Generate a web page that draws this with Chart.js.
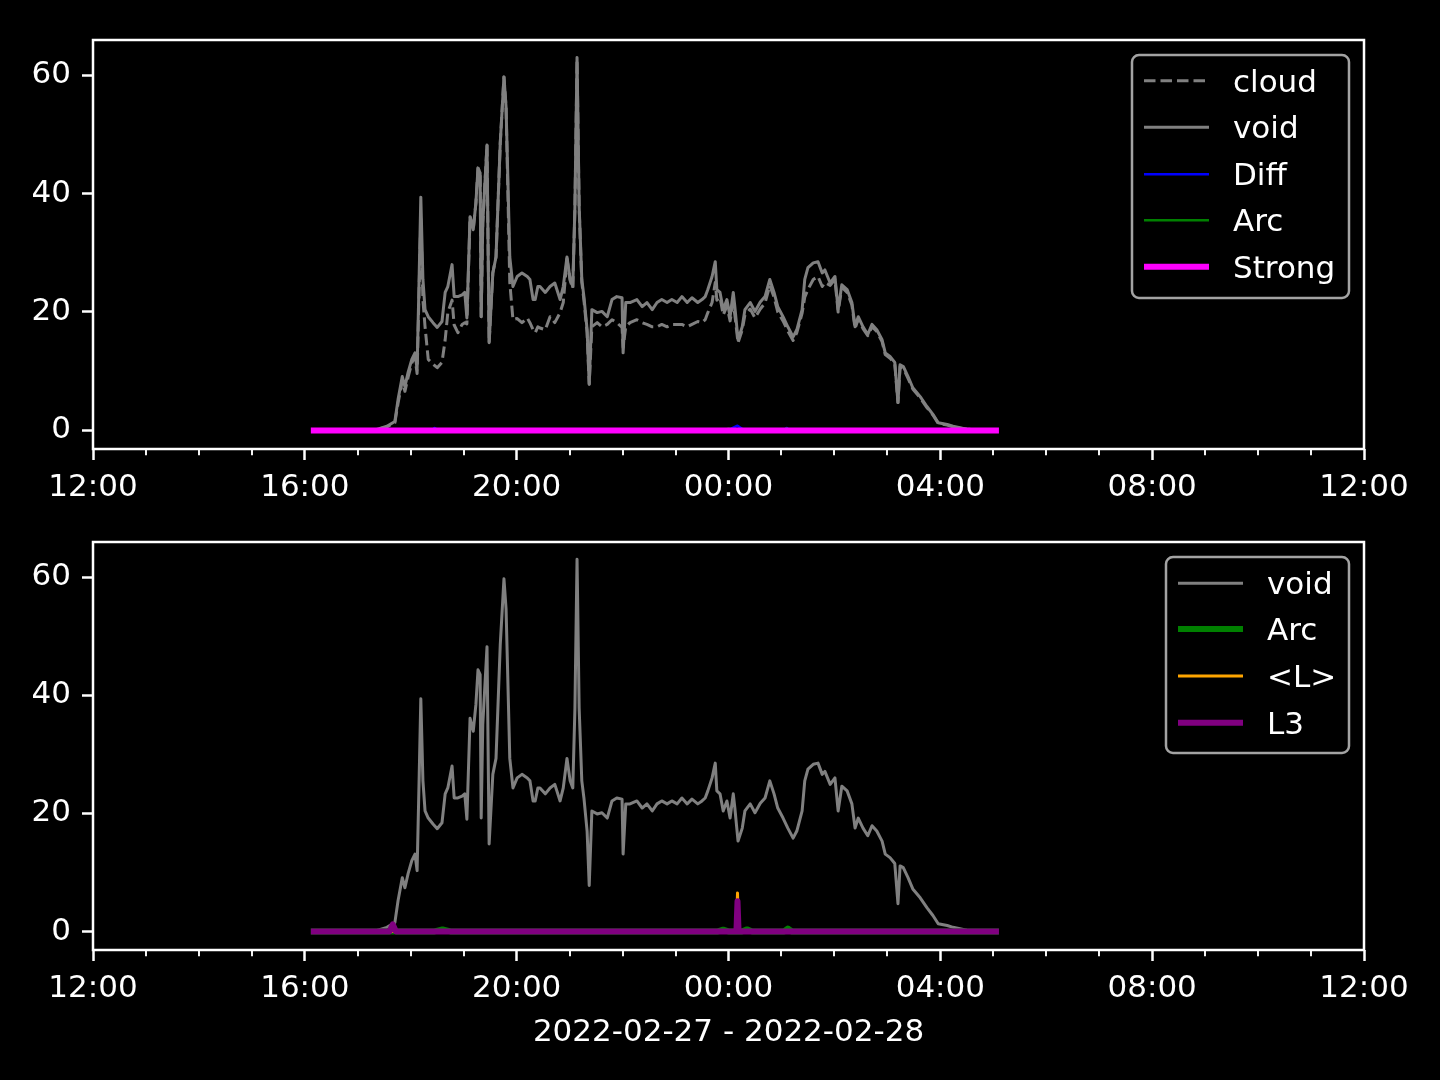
<!DOCTYPE html>
<html>
<head>
<meta charset="utf-8">
<script src="https://cdn.jsdelivr.net/npm/chart.js@4.4.1/dist/chart.umd.min.js"></script>
<style>
html, body { margin: 0; padding: 0; background: #000; }
body { width: 1440px; height: 1080px; position: relative; overflow: hidden; }
canvas { position: absolute; left: 0; }
#chart_top { top: 0; }
#chart_bottom { top: 500px; }
</style>
</head>
<body>
<canvas id="chart_top" width="1440" height="540"></canvas>
<canvas id="chart_bottom" width="1440" height="580"></canvas>
<script>
// time axis: hours after 2022-02-27 12:00
var hourTicks = [0, 1, 2, 3, 4, 5, 6, 7, 8, 9, 10, 11, 12, 13, 14, 15, 16, 17, 18, 19, 20, 21, 22, 23, 24];
var majorHours = [0, 4, 8, 12, 16, 20, 24];
var majorLabels = ['12:00', '16:00', '20:00', '00:00', '04:00', '08:00', '12:00'];
var yTicks = [0, 20, 40, 60];
var dateLabel = '2022-02-27 - 2022-02-28';

var voidT = [4.17, 5.30, 5.55, 5.70, 5.76, 5.84, 5.89, 5.95, 6.02, 6.08, 6.12, 6.16, 6.19, 6.23, 6.27, 6.33, 6.42, 6.50, 6.59, 6.65,
    6.70, 6.78, 6.82, 6.89, 6.97, 7.02, 7.06, 7.12, 7.18, 7.23, 7.27, 7.31, 7.33, 7.36, 7.44, 7.48, 7.55, 7.61, 7.69, 7.76,
    7.80, 7.87, 7.93, 8.01, 8.10, 8.20, 8.25, 8.31, 8.35, 8.40, 8.44, 8.54, 8.63, 8.72, 8.82, 8.88, 8.95, 9.01, 9.06, 9.10,
    9.14, 9.18, 9.23, 9.27, 9.33, 9.37, 9.42, 9.52, 9.61, 9.71, 9.80, 9.89, 9.99, 10.01, 10.06, 10.14, 10.27, 10.37, 10.46, 10.56,
    10.65, 10.74, 10.84, 10.93, 11.03, 11.12, 11.22, 11.31, 11.42, 11.50, 11.56, 11.61, 11.69, 11.75, 11.78, 11.84, 11.90, 11.97, 12.03, 12.09,
    12.12, 12.18, 12.26, 12.31, 12.41, 12.50, 12.60, 12.69, 12.78, 12.86, 12.93, 13.03, 13.12, 13.22, 13.29, 13.39, 13.44, 13.50, 13.60, 13.69,
    13.77, 13.82, 13.92, 14.01, 14.07, 14.14, 14.24, 14.33, 14.39, 14.45, 14.54, 14.63, 14.71, 14.80, 14.90, 14.96, 15.05, 15.14, 15.20, 15.24,
    15.30, 15.39, 15.48, 15.62, 15.75, 15.86, 15.96, 16.13, 16.24, 16.50, 17.05];
var voidV = [0, 0, 0.7, 1.5, 5.2, 9.1, 7.4, 9.8, 12.0, 13.1, 10.3, 26.6, 39.4, 25.5, 20.4, 19.2, 18.2, 17.4, 18.4, 23.3,
    24.3, 28.0, 22.6, 22.6, 22.9, 23.3, 19.0, 36.1, 33.9, 38.4, 44.3, 43.5, 19.2, 35.0, 48.2, 14.8, 26.6, 29.3, 48.5, 59.7,
    54.6, 29.3, 24.3, 26.0, 26.6, 26.0, 25.5, 22.1, 22.1, 24.3, 24.3, 23.3, 24.3, 24.9, 22.1, 24.3, 29.3, 25.5, 24.3, 37.8,
    63.0, 37.8, 25.5, 22.6, 17.0, 7.8, 20.4, 19.9, 20.1, 19.2, 22.1, 22.6, 22.4, 13.1, 21.6, 21.6, 22.1, 20.9, 21.6, 20.4,
    21.6, 22.1, 21.6, 22.1, 21.6, 22.6, 21.6, 22.4, 21.6, 22.1, 22.6, 23.8, 26.0, 28.5, 23.8, 23.3, 20.4, 22.1, 19.2, 23.3,
    20.9, 15.3, 17.5, 20.4, 21.6, 20.1, 21.7, 22.6, 25.5, 23.3, 20.9, 19.2, 17.5, 15.8, 17.0, 20.4, 25.5, 27.5, 28.3, 28.5,
    26.6, 27.1, 24.9, 26.0, 20.4, 24.6, 23.8, 21.6, 17.5, 19.2, 17.5, 16.2, 17.9, 17.0, 15.3, 13.1, 12.5, 11.5, 4.7, 11.1,
    10.8, 9.1, 7.2, 5.7, 4.0, 2.7, 1.3, 1.0, 0.7, 0.2, 0];

var cloudT = [4.17, 5.30, 5.55, 5.70, 5.76, 5.84, 5.89, 5.95, 6.02, 6.08, 6.12, 6.16, 6.19, 6.23, 6.27, 6.33, 6.42, 6.50, 6.59, 6.65,
    6.70, 6.78, 6.82, 6.89, 6.97, 7.02, 7.06, 7.12, 7.18, 7.23, 7.27, 7.31, 7.33, 7.36, 7.44, 7.48, 7.55, 7.61, 7.69, 7.76,
    7.80, 7.87, 7.93, 8.01, 8.10, 8.20, 8.25, 8.31, 8.35, 8.40, 8.44, 8.54, 8.63, 8.72, 8.82, 8.88, 8.95, 9.01, 9.06, 9.10,
    9.14, 9.18, 9.23, 9.27, 9.33, 9.37, 9.42, 9.52, 9.61, 9.71, 9.80, 9.89, 9.99, 10.01, 10.06, 10.14, 10.27, 10.37, 10.46, 10.56,
    10.65, 10.74, 10.84, 10.93, 11.03, 11.12, 11.22, 11.31, 11.42, 11.50, 11.56, 11.61, 11.69, 11.75, 11.78, 11.84, 11.90, 11.97, 12.03, 12.09,
    12.12, 12.18, 12.26, 12.31, 12.41, 12.50, 12.60, 12.69, 12.78, 12.86, 12.93, 13.03, 13.12, 13.22, 13.29, 13.39, 13.44, 13.50, 13.60, 13.69,
    13.77, 13.82, 13.92, 14.01, 14.07, 14.14, 14.24, 14.33, 14.39, 14.45, 14.54, 14.63, 14.71, 14.80, 14.90, 14.96, 15.05, 15.14, 15.20, 15.24,
    15.30, 15.39, 15.48, 15.62, 15.75, 15.86, 15.96, 16.13, 16.24, 16.50, 17.05];
var cloudV = [0, 0, 0.6, 1.3, 4.6, 8.4, 6.6, 9.0, 11.4, 12.4, 9.6, 24.5, 36.0, 22.0, 17.5, 12.0, 11.2, 10.6, 11.5, 15.3,
    19.9, 22.0, 17.8, 16.5, 17.9, 18.2, 18.0, 36.1, 33.9, 38.4, 44.3, 43.5, 19.2, 35.0, 48.2, 14.8, 26.6, 29.3, 48.5, 59.7,
    54.6, 25.0, 18.7, 18.9, 18.2, 19.0, 18.2, 17.0, 16.5, 17.5, 17.3, 17.0, 19.2, 18.2, 19.9, 21.6, 29.0, 25.3, 24.0, 37.5,
    62.6, 37.5, 25.0, 22.0, 16.5, 7.8, 17.5, 18.2, 17.5, 17.9, 18.7, 18.2, 17.4, 14.0, 17.5, 18.2, 18.7, 18.2, 17.9, 17.5,
    17.5, 17.9, 17.5, 17.9, 17.9, 17.9, 17.5, 17.9, 18.4, 18.2, 18.7, 19.9, 21.6, 25.0, 22.0, 22.5, 19.5, 21.0, 18.5, 21.5,
    19.5, 14.8, 17.0, 19.5, 20.5, 19.0, 20.5, 21.5, 24.5, 22.5, 20.0, 18.5, 16.8, 15.2, 16.5, 19.8, 22.5, 23.8, 25.5, 26.0,
    24.3, 25.0, 24.5, 25.5, 20.0, 24.2, 23.3, 21.2, 17.2, 18.8, 17.2, 16.0, 17.5, 16.7, 15.0, 12.8, 12.2, 11.2, 4.7, 10.8,
    10.5, 8.8, 7.0, 5.5, 3.8, 2.6, 1.2, 0.9, 0.6, 0.2, 0];

var diffT = [4.17, 6.40, 6.45, 6.52, 11.95, 12.05, 12.17, 12.25, 12.35, 13.05, 13.10, 13.15, 17.05];
var diffV = [0, 0, 0.4, 0, 0, 0.3, 0.8, 0.3, 0, 0, 0.4, 0, 0];
var arcTopT = [4.17, 11.90, 12.00, 12.10, 13.05, 13.10, 13.15, 17.05];
var arcTopV = [0, 0, 0.3, 0, 0, 0.3, 0, 0];
var strongT = [4.17, 17.05];
var strongV = [0, 0];

var arcT = [4.17, 6.45, 6.60, 6.75, 11.80, 11.90, 12.00, 12.25, 12.35, 12.45, 13.05, 13.12, 13.20, 17.05];
var arcV = [0, 0, 0.35, 0, 0, 0.3, 0, 0, 0.35, 0, 0, 0.5, 0, 0];
var lAvgT = [4.17, 12.15, 12.17, 12.19, 17.05];
var lAvgV = [0, 0, 6.5, 0, 0];
var l3T = [4.17, 5.60, 5.66, 5.72, 12.15, 12.17, 12.19, 17.05];
var l3V = [0, 0, 1.2, 0, 0, 5.1, 0, 0];

var FONT = 'DejaVu Sans';
Chart.defaults.font.family = FONT;

function pts(t, v) {
    return t.map(function (x, i) { return { x: x, y: v[i] }; });
}

// z: stacking position, later series are drawn on top (Chart.js draws low order last)
function line(label, t, v, color, width, z, dash) {
    return {
        label: label,
        data: pts(t, v),
        borderColor: color,
        borderWidth: width,
        borderDash: dash || [],
        borderCapStyle: dash ? 'butt' : 'square',
        borderJoinStyle: 'round',
        pointRadius: 0,
        fill: false,
        tension: 0,
        order: 10 - z,
    };
}

// axes frame, minor hour ticks and matplotlib-like legend box
var axesDecor = {
    id: 'axesDecor',
    afterDraw: function (chart, args, o) {
        var ctx = chart.ctx;
        var a = chart.chartArea;
        var xs = chart.scales.x;
        ctx.save();
        ctx.strokeStyle = '#ffffff';
        ctx.lineWidth = 1.9;
        xs.ticks.forEach(function (t) {
            if (majorHours.indexOf(t.value) < 0) {
                var px = Math.round(xs.getPixelForValue(t.value));
                ctx.beginPath();
                ctx.moveTo(px, a.bottom);
                ctx.lineTo(px, a.bottom + 6.25);
                ctx.stroke();
            }
        });
        ctx.lineWidth = 2.5;
        ctx.strokeRect(a.left, a.top, a.right - a.left, a.bottom - a.top);

        ctx.beginPath();
        ctx.roundRect(o.x, o.y, o.w, o.h, 7);
        ctx.fillStyle = 'rgba(0,0,0,0.8)';
        ctx.fill();
        ctx.strokeStyle = '#a3a3a3';
        ctx.lineWidth = 2.5;
        ctx.stroke();

        ctx.font = '31px "' + FONT + '"';
        ctx.textBaseline = 'alphabetic';
        ctx.textAlign = 'left';
        chart.data.datasets.forEach(function (ds, i) {
            var y = o.rowY[i];
            ctx.beginPath();
            ctx.setLineDash(ds.borderDash);
            ctx.lineCap = 'butt';
            ctx.strokeStyle = ds.borderColor;
            ctx.lineWidth = ds.borderWidth;
            ctx.moveTo(o.lineX0, y);
            ctx.lineTo(o.lineX1, y);
            ctx.stroke();
            ctx.setLineDash([]);
            ctx.fillStyle = '#ffffff';
            ctx.fillText(ds.label, o.textX, y + 11);
        });
        ctx.restore();
    },
};

function buildOptions(xHeight, padTop, legendBox, withTitle) {
    var tickFont = { family: FONT, size: 31 };
    return {
        responsive: false,
        animation: false,
        events: [],
        layout: { padding: { top: padTop, right: 76, bottom: 0, left: 0 } },
        plugins: {
            legend: { display: false },
            tooltip: { enabled: false },
            axesDecor: legendBox,
        },
        scales: {
            x: {
                type: 'linear',
                min: 0,
                max: 24,
                afterBuildTicks: function (s) {
                    s.ticks = hourTicks.map(function (h) { return { value: h }; });
                },
                afterFit: function (s) { s.height = xHeight; },
                border: { display: false },
                grid: {
                    drawOnChartArea: false,
                    drawTicks: true,
                    tickLength: 11,
                    tickWidth: 2.5,
                    color: 'rgba(0,0,0,0)',
                    tickColor: function (c) {
                        return c.tick && majorHours.indexOf(c.tick.value) >= 0 ? '#ffffff' : 'rgba(0,0,0,0)';
                    },
                },
                ticks: {
                    autoSkip: false,
                    maxRotation: 0,
                    padding: 9,
                    color: '#ffffff',
                    font: tickFont,
                    callback: function (v) {
                        var k = majorHours.indexOf(v);
                        return k >= 0 ? majorLabels[k] : '';
                    },
                },
                title: {
                    display: withTitle,
                    text: dateLabel,
                    color: '#ffffff',
                    font: { family: FONT, size: 31, lineHeight: 1.2 },
                    padding: { top: 0, bottom: 28 },
                },
            },
            y: {
                min: -3.14,
                max: 65.94,
                afterBuildTicks: function (s) {
                    s.ticks = yTicks.map(function (v) { return { value: v }; });
                },
                afterFit: function (s) { s.width = 93; },
                border: { display: false },
                grid: {
                    drawOnChartArea: false,
                    drawTicks: true,
                    tickLength: 11,
                    tickWidth: 2.5,
                    color: 'rgba(0,0,0,0)',
                    tickColor: '#ffffff',
                },
                ticks: {
                    padding: 11,
                    color: '#ffffff',
                    font: tickFont,
                },
            },
        },
    };
}

new Chart(document.getElementById('chart_top'), {
    type: 'line',
    data: {
        datasets: [
            line('cloud', cloudT, cloudV, '#808080', 3, 0, [11.5, 5]),
            line('void', voidT, voidV, '#808080', 3, 1),
            line('Diff', diffT, diffV, '#0000ff', 2.5, 2),
            line('Arc', arcTopT, arcTopV, '#008000', 2.5, 3),
            line('Strong', strongT, strongV, '#ff00ff', 6, 4),
        ],
    },
    options: buildOptions(91, 40, {
        x: 1132, y: 55, w: 217, h: 243,
        lineX0: 1144, lineX1: 1209, textX: 1233,
        rowY: [80.7, 127.3, 174.3, 220.3, 266.7],
    }, false),
    plugins: [axesDecor],
});

new Chart(document.getElementById('chart_bottom'), {
    type: 'line',
    data: {
        datasets: [
            line('void', voidT, voidV, '#808080', 3, 0),
            line('Arc', arcT, arcV, '#008000', 6, 1),
            line('<L>', lAvgT, lAvgV, '#ffa500', 3, 2),
            line('L3', l3T, l3V, '#800080', 6, 3),
        ],
    },
    options: buildOptions(130, 42, {
        x: 1166, y: 57, w: 183, h: 196,
        lineX0: 1178, lineX1: 1243, textX: 1267,
        rowY: [83.3, 129, 176, 222.7],
    }, true),
    plugins: [axesDecor],
});
</script>
</body>
</html>
